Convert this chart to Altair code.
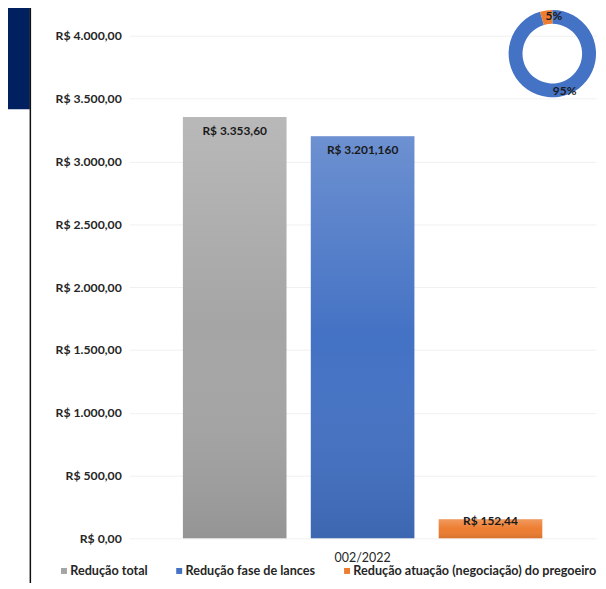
import altair as alt
import pandas as pd

# ---- data ----
processo = "002/2022"
series = ["Redução total", "Redução fase de lances", "Redução atuação (negociação) do pregoeiro"]
valores = [3353.60, 3201.16, 152.44]
rotulos = ["R$ 3.353,60", "R$ 3.201,160", "R$ 152,44"]
cores = ["#a5a5a5", "#4472c4", "#ed7d31"]

rosca_partes = ["Redução fase de lances", "Redução atuação (negociação) do pregoeiro"]
rosca_valores = [3201.16, 152.44]
rosca_rotulos = ["95%", "5%"]
rosca_cores = ["#4472c4", "#ed7d31"]

y_ticks = [0, 500, 1000, 1500, 2000, 2500, 3000, 3500, 4000]

FONT = "Lato, sans-serif"
FS = 12
FW = "bold"
TXT = "#262626"

df = pd.DataFrame({
    "processo": [processo] * len(series),
    "serie": series,
    "valor": valores,
    "rotulo": rotulos,
})
df_rosca = pd.DataFrame({
    "parte": rosca_partes,
    "valor": rosca_valores,
    "rotulo": rosca_rotulos,
    "ordem": list(range(len(rosca_partes))),
})
df_deco = pd.DataFrame({"k": [0]})

x_enc = alt.X(
    "processo:N", title=None,
    scale=alt.Scale(paddingInner=0, paddingOuter=0, round=False),
    axis=alt.Axis(labelAngle=0, ticks=False, domain=False, labelPadding=13,
                  labelFontSize=12.5, labelColor=TXT, labelFont=FONT, labelFontWeight="normal", grid=False),
)
xo_enc = alt.XOffset("serie:N", sort=series,
                     scale=alt.Scale(domain=series, paddingInner=0.19, paddingOuter=0.42, round=False))
y_enc = alt.Y(
    "valor:Q", title=None,
    scale=alt.Scale(domain=[0, 4000], nice=False, zero=True),
    axis=alt.Axis(values=y_ticks, format="$,.2f", ticks=False, domain=False,
                  labelPadding=8, labelFontSize=12.3, labelColor=TXT, labelFont=FONT,
                  labelFontWeight=FW, gridColor="#f0f0f0", gridWidth=1),
)

base = alt.Chart(df)

bars = base.mark_bar().encode(
    x=x_enc, xOffset=xo_enc, y=y_enc,
    color=alt.Color(
        "serie:N", sort=series,
        scale=alt.Scale(domain=series, range=cores),
        legend=alt.Legend(
            title=None, orient="none", legendX=-72, legendY=532,
            direction="horizontal", symbolType="square", symbolSize=36,
            symbolStrokeWidth=0, labelFont=FONT, labelFontSize=12.7,
            labelColor=TXT, labelFontWeight=FW, columnPadding=25, labelOffset=0,
            labelLimit=400,
        ),
    ),
)

shade = base.mark_bar(
    color=alt.Gradient(
        gradient="linear", x1=0, x2=0, y1=0, y2=1,
        stops=[alt.GradientStop(color="rgba(255,255,255,0.22)", offset=0),
               alt.GradientStop(color="rgba(255,255,255,0.0)", offset=0.5),
               alt.GradientStop(color="rgba(0,0,0,0.10)", offset=1)],
    )
).encode(x=x_enc, xOffset=xo_enc, y=y_enc)

lbl_tall = base.transform_filter("datum.valor > 1000").mark_text(
    baseline="middle", dy=14, font=FONT, fontSize=FS, fontWeight=FW, color="#1a1a1a"
).encode(x=x_enc, xOffset=xo_enc, y=y_enc, text="rotulo:N")

lbl_short = base.transform_filter("datum.valor <= 1000").mark_text(
    baseline="middle", dy=2, font=FONT, fontSize=FS, fontWeight=FW, color="#1a1a1a"
).encode(x=x_enc, xOffset=xo_enc, y=y_enc, text="rotulo:N")

# ---- donut ----
CX, CY = 426, 18
rosca = alt.Chart(df_rosca).mark_arc(innerRadius=30, outerRadius=44).encode(
    theta=alt.Theta("valor:Q", stack=True),
    color=alt.Color("parte:N", scale=alt.Scale(domain=rosca_partes, range=rosca_cores), legend=None),
    order=alt.Order("ordem:Q"),
    x=alt.value(CX), y=alt.value(CY),
)
rosca_lbl = alt.Chart(df_rosca).mark_text(
    font=FONT, fontSize=FS, fontWeight=FW, color="#1a1a1a", dx=7, dy=0, baseline="middle"
).encode(
    theta=alt.Theta("valor:Q", stack=True),
    radius=alt.value(38),
    text="rotulo:N",
    order=alt.Order("ordem:Q"),
    x=alt.value(CX), y=alt.value(CY),
)

# ---- decorations ----
navy = alt.Chart(df_deco).mark_rect(color="#00205f").encode(
    x=alt.value(-130), x2=alt.value(-100), y=alt.value(-40), y2=alt.value(74)
)
border = alt.Chart(df_deco).mark_rule(color="#111111", strokeWidth=1.5).encode(
    x=alt.value(-99.5), y=alt.value(-30), y2=alt.value(560)
)

chart = alt.layer(navy, border, bars, shade, lbl_tall, lbl_short, rosca, rosca_lbl).resolve_scale(
    color="independent", theta="independent"
).properties(
    width=470, height=506,
    padding={"left": 122, "top": 26, "right": 2, "bottom": 43},
    autosize=alt.AutoSizeParams(type="none"),
).configure(
    locale={"number": {"decimal": ",", "thousands": ".", "grouping": [3], "currency": ["R$ ", ""]}},
).configure_view(stroke=None)

chart.save("out.html", embed_options={"renderer": "svg", "actions": False})
